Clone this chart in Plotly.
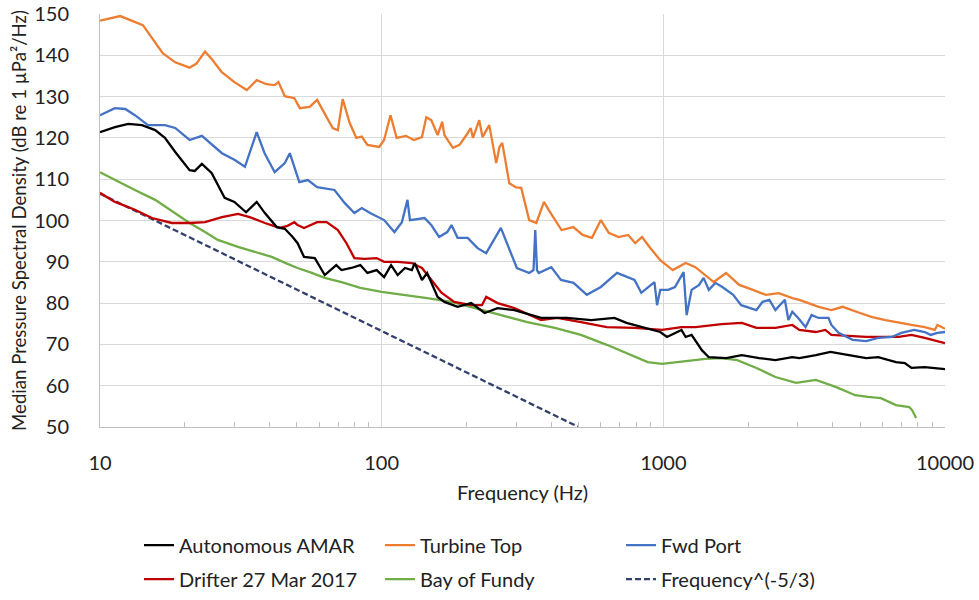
import plotly.graph_objects as go

# ---------------- data ----------------
amar_f = [10, 11.3, 12.6, 14.1, 15.7, 17, 18.5, 20.8, 21.7, 23, 24.9, 27.7, 30, 33, 36, 38.5, 42.4, 45.3, 48.3,
          50.3, 53, 57.9, 62.8, 69, 72, 78, 84, 89, 96, 102, 108, 114, 121, 128, 131, 139, 145, 158, 167, 186,
          208, 232, 258, 296, 368, 455, 555, 670, 740, 835, 975, 1030, 1100, 1160, 1200, 1260, 1370, 1450,
          1670, 1900, 2190, 2500, 2870, 3040, 3480, 3920, 4560, 5250, 5790, 6700, 7200, 7600, 8470, 10000]
amar_db = [121.4, 122.6, 123.4, 123.1, 121.9, 120, 116.6, 112.2, 112, 113.7, 111.5, 105.5, 104.5, 102, 104.5,
           101.8, 98.4, 98.0, 96, 94.5, 91.2, 90.9, 86.8, 89.2, 88, 88.5, 89.2, 87.3, 88, 86.3, 89.2, 86.8, 88.5,
           88, 89.7, 85.6, 87.3, 81.5, 80.3, 79.1, 80, 77.6, 78.8, 78.3, 76.4, 76.4, 75.9, 76.4, 75.2, 74.2,
           73, 71.8, 72.8, 73.5, 71.8, 72.3, 68.6, 66.9, 66.7, 67.4, 66.7, 66.2, 66.9, 66.7, 67.4, 68.2, 67.4,
           66.7, 66.9, 65.7, 65.5, 64.3, 64.5, 64]

turb_f = [10, 11.8, 14.2, 16.7, 18.5, 20.8, 22, 23.6, 25, 27, 30, 33.2, 36, 39, 41.7, 43, 45.3, 49, 51.2, 55.5,
          59, 61.8, 67, 69.9, 72.7, 77, 81.3, 85, 89, 98, 102, 107.5, 113, 122, 130, 139, 144, 150, 158, 164,
          167, 179, 189, 200, 207, 211, 222, 228, 241, 255, 262, 268, 284, 300, 313, 334, 354, 377, 392, 435,
          479, 517, 558, 600, 640, 694, 750, 795, 840, 900, 975, 1080, 1200, 1300, 1410, 1510, 1670, 1860,
          2080, 2310, 2570, 2870, 3040, 3560, 3950, 4330, 4990, 5520, 6150, 6850, 7600, 8470, 9200, 9400, 10000]
turb_db = [148.4, 149.5, 147.3, 140.5, 138.3, 137, 138, 140.9, 139, 136, 133.5, 131.6, 134, 133, 132.8, 133.5,
           130.1, 129.6, 127.2, 127.5, 129.2, 126.8, 122.4, 121.9, 129.4, 123.6, 120, 120.3, 118.3, 117.8, 119.5,
           125.5, 120, 120.5, 119.5, 120.2, 125, 124.3, 120.7, 123.9, 120.7, 117.6, 118.3, 120.7, 122.4, 120,
           124.3, 120.2, 123.1, 113.9, 117.8, 118.8, 109, 108, 107.9, 100.1, 99.4, 104.5, 102.5, 97.7, 98.4,
           96.5, 95.8, 100.1, 97, 96, 96.5, 94.5, 96, 93.3, 90.4, 88, 89.7, 88.7, 86.8, 85.1, 87.3, 84.4,
           83.2, 82, 82.4, 81.2, 80.8, 79.1, 78.3, 79.1, 77.6, 76.6, 75.9, 75.2, 74.7, 74.2, 73.5, 74.7, 73.8]

fwd_f = [10, 11.3, 12.3, 13.3, 14.8, 17, 18.5, 20.8, 23, 27.1, 30, 32.7, 36, 38.4, 41.7, 45.3, 47.2, 49, 51,
         54.7, 59, 68, 74, 80, 85, 91, 102, 111, 118, 123.5, 126, 142, 150, 160, 171, 177, 186, 202, 219, 235,
         265, 302, 334, 346, 351, 356, 361, 400, 433, 480, 535, 600, 685, 790, 835, 930, 950, 975, 1040, 1100,
         1140, 1180, 1210, 1260, 1340, 1390, 1450, 1530, 1620, 1770, 1890, 1980, 2140, 2250, 2380, 2500, 2700,
         2780, 2870, 3000, 3120, 3200, 3360, 3560, 3860, 3950, 4190, 4700, 5250, 5790, 6480, 7000, 7770, 8470,
         8900, 9400, 10000]
fwd_db = [125.5, 127.2, 127, 125.5, 123.1, 123.1, 122.4, 119.5, 120.5, 116.3, 114.7, 113, 121.4, 116.3, 111.7,
          113.9, 116.3, 113, 109.3, 109.8, 108.1, 107.4, 104.2, 101.8, 103, 101.8, 100.1, 97.2, 99.6, 105, 100.1,
          100.6, 98.9, 96, 97.2, 98.9, 95.8, 95.8, 93.3, 92.1, 98.2, 88.5, 87.3, 88, 97.7, 88, 87.3, 88.7, 85.6,
          84.9, 82, 83.9, 87.3, 85.6, 82.5, 85.1, 79.5, 83.2, 83.2, 83.9, 85.6, 87.5, 77.1, 83.2, 84.4, 86.1,
          83.2, 84.9, 83.9, 82, 79.5, 79.1, 78.3, 80.3, 80.8, 78.3, 80.8, 75.9, 77.9, 76.5, 75.2, 74.2, 77.1,
          76.4, 76.4, 74.7, 72.8, 71.1, 70.8, 71.6, 71.8, 72.8, 73.5, 73, 72.3, 72.8, 73]

drift_f = [10, 11.3, 13.3, 15.3, 18, 20.8, 23.6, 27.1, 30.9, 34, 38.5, 43.5, 46.3, 49, 50.3, 53, 59, 63.8, 69.9,
           75, 80, 87, 96, 102, 114, 128, 139, 150, 163, 181, 208, 227, 235, 258, 296, 368, 420, 510, 630, 790,
           990, 1160, 1300, 1610, 1900, 2140, 2500, 2870, 3040, 3480, 3760, 3950, 5250, 6850, 7600, 8470, 10000]
drift_db = [106.7, 104.5, 102.6, 100.6, 99.4, 99.4, 99.6, 100.8, 101.6, 100.8, 99.4, 98.2, 98.7, 99.6, 98.9,
            98.2, 99.6, 99.6, 97.7, 94.5, 90.9, 90.7, 90.9, 90, 90, 89.7, 88.5, 85.6, 82.5, 80.3, 79.5, 79.5,
            81.5, 80, 78.8, 75.9, 76.4, 75.4, 74.2, 74, 73.5, 74.2, 74.2, 74.9, 75.2, 74, 74, 74.7, 73.5, 73,
            73.5, 72.3, 71.8, 71.8, 72.3, 71.6, 70.3]

fundy_f = [10, 11.3, 13.3, 15.7, 18.5, 20.8, 23.6, 26.2, 30.9, 35.4, 40.7, 46.3, 50.3, 56.5, 62.8, 72, 84, 100,
           121, 145, 177, 213, 265, 329, 412, 510, 630, 740, 880, 990, 1100, 1410, 1610, 1830, 2140, 2500, 2960,
           3480, 4090, 4800, 5330, 5920, 6700, 7470, 7640, 7900]
fundy_db = [111.7, 109.8, 107.4, 105, 101.8, 99.4, 97.2, 95.3, 93.6, 92.4, 91.2, 89.5, 88.5, 87.3, 86.1, 85.1,
            83.7, 82.7, 82, 81.2, 80.3, 78.8, 77.1, 75.4, 74, 72.3, 69.9, 67.9, 65.7, 65.3, 65.7, 66.5, 66.7,
            66.2, 64.3, 62.1, 60.7, 61.4, 59.7, 57.7, 57.3, 57, 55.3, 54.8, 54.1, 52.2]

ref_f = [10, 500]
ref_db = [106.5, 50]

y_ticks = [50, 60, 70, 80, 90, 100, 110, 120, 130, 140, 150]
x_ticks = [10, 100, 1000, 10000]
x_tick_labels = ["10", "100", "1000", "10000"]
x_minor_ticks = [m * d for d in (10, 100, 1000) for m in range(2, 10)]

# ---------------- figure ----------------
FONT = "Lato, 'Open Sans', sans-serif"
fig = go.Figure()

series = [
    ("Autonomous AMAR", amar_f, amar_db, "#000000", "solid", "legend", 1),
    ("Turbine Top", turb_f, turb_db, "#ED7D31", "solid", "legend", 2),
    ("Fwd Port", fwd_f, fwd_db, "#4472C4", "solid", "legend", 3),
    ("Drifter 27 Mar 2017", drift_f, drift_db, "#C00000", "solid", "legend2", 4),
    ("Bay of Fundy", fundy_f, fundy_db, "#70AD47", "solid", "legend2", 5),
    ("Frequency^(-5/3)", ref_f, ref_db, "#33406B", "dash", "legend2", 6),
]
# draw order: reference first so data lines sit on top
for idx in [5, 4, 3, 0, 2, 1]:
    name, fx, fy, col, dash, lg, rank = series[idx]
    fig.add_trace(go.Scatter(
        x=fx, y=fy, name=name, mode="lines", legend=lg, legendrank=rank,
        line=dict(color=col, width=2.3, dash=("6px,3px" if dash == "dash" else "solid")),
        hoverinfo="skip",
    ))

legend_common = dict(
    orientation="h", xanchor="left", yanchor="top",
    font=dict(family=FONT, size=20, color="#222222"),
    entrywidth=196, entrywidthmode="pixels",
    bgcolor="rgba(0,0,0,0)", traceorder="normal",
)

fig.update_layout(
    width=979, height=600,
    margin=dict(l=100, r=34, t=14, b=173, autoexpand=False),
    paper_bgcolor="white", plot_bgcolor="white",
    font=dict(family=FONT, size=20, color="#222222"),
    xaxis=dict(
        type="log", range=[1, 4], automargin=False,
        tickvals=x_ticks, ticktext=x_tick_labels,
        showgrid=True, gridcolor="#D9D9D9", gridwidth=1,
        showline=True, linecolor="#BFBFBF", linewidth=1,
        ticks="", ticklabelstandoff=18,
        minor=dict(tickvals=x_minor_ticks, ticks="inside", ticklen=5, tickcolor="#BFBFBF", showgrid=False),
        tickfont=dict(size=20),
        zeroline=False,
    ),
    yaxis=dict(
        range=[50, 150], tickvals=y_ticks, automargin=False,
        showgrid=True, gridcolor="#D9D9D9", gridwidth=1,
        showline=True, linecolor="#BFBFBF", linewidth=1,
        ticks="", ticklabelstandoff=26,
        tickfont=dict(size=20),
        title=dict(text="Median Pressure Spectral Density (dB re 1 µPa²/Hz)", font=dict(size=18.6), standoff=2),
        zeroline=False,
    ),
    annotations=[dict(
        text="Frequency (Hz)", xref="paper", yref="paper", x=0.5, y=-0.1574,
        xanchor="center", yanchor="middle", showarrow=False,
        font=dict(family=FONT, size=20, color="#222222"),
    )],
    legend=dict(x=(139 - 100) / 845, y=-0.239, **legend_common),
    legend2=dict(x=(139 - 100) / 845, y=-0.321, **legend_common),
    showlegend=True,
)

fig.write_html(
    "out.html",
    config={"displayModeBar": False},
    post_script="document.body.style.margin='0px'; document.body.style.overflow='hidden';",
)
